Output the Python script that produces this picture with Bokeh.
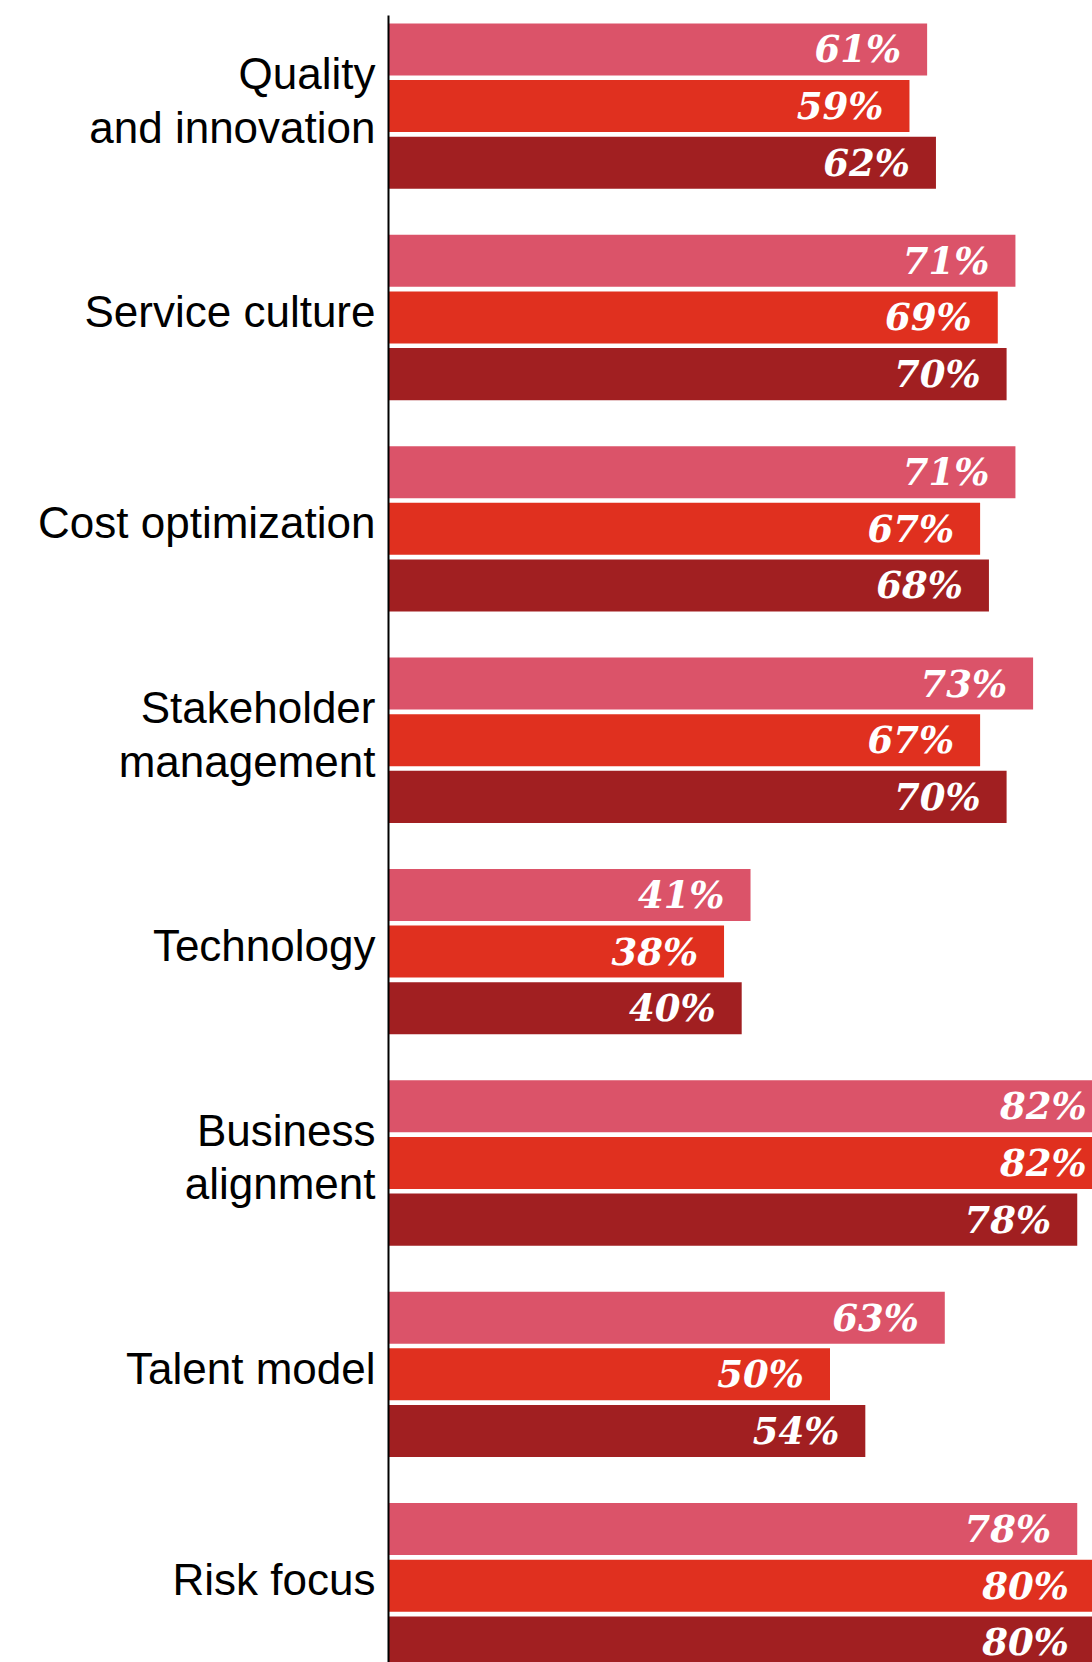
from bokeh.plotting import figure
from bokeh.models import Range1d, FixedTicker, ColumnDataSource
from bokeh.core.properties import value
from bokeh.embed import file_html
from bokeh.resources import INLINE

categories = ["Quality\nand innovation", "Service culture", "Cost optimization",
              "Stakeholder\nmanagement", "Technology", "Business\nalignment",
              "Talent model", "Risk focus"]
series_a = [61, 71, 71, 73, 41, 82, 63, 78]
series_b = [59, 69, 67, 67, 38, 82, 50, 80]
series_c = [62, 70, 68, 70, 40, 78, 54, 80]
series_names = ["A", "B", "C"]
colors = ["#DB5369", "#E0301F", "#A11F21"]

# layout constants (pixels)
W, H = 1092, 1662
LEFT, TOP = 388, 15
PX_PER_PCT = 8.83
UNIT = 56.67          # px per bar slot
GROUP = 3.73          # group step in bar slots
BAR_H = 0.918
FIRST_CENTER = 48.9   # px from figure top to first bar centre
LABEL_SHIFT = 6       # px to lift category labels

frame_w = W - LEFT
frame_h = H - TOP
y_end = (FIRST_CENTER - TOP) / UNIT
y_start = y_end - frame_h / UNIT

p = figure(width=W, height=H, output_backend="svg", toolbar_location=None,
           x_range=Range1d(0, frame_w / PX_PER_PCT), y_range=Range1d(y_start, y_end),
           x_axis_location=None, min_border_left=LEFT, min_border_top=TOP,
           min_border_right=0, min_border_bottom=0)
p.outline_line_color = None
p.grid.visible = False
p.background_fill_color = "white"
p.border_fill_color = "white"

all_series = [series_a, series_b, series_c]
for j, vals in enumerate(all_series):
    ys = [-(i * GROUP + j) for i in range(len(categories))]
    src = ColumnDataSource(dict(y=ys, v=vals, lab=[f"{v}%" for v in vals]))
    p.hbar(y="y", left=0, right="v", height=BAR_H, source=src,
           fill_color=colors[j], line_color=None)
    p.text(x="v", y="y", text="lab", source=src, x_offset=-26, y_offset=0,
           text_align="right", text_baseline="middle",
           text_font=value("DejaVu Serif"), text_font_style="bold italic",
           text_font_size="37px", text_color="white")

ticks = [-(i * GROUP + 1) + LABEL_SHIFT / UNIT for i in range(len(categories))]
p.yaxis.ticker = FixedTicker(ticks=ticks)
p.yaxis.major_label_overrides = {t: c for t, c in zip(ticks, categories)}
p.yaxis.major_tick_in = 0
p.yaxis.major_tick_out = 0
p.yaxis.minor_tick_in = 0
p.yaxis.minor_tick_out = 0
p.yaxis.major_label_standoff = 13
p.yaxis.major_label_text_font = "Liberation Sans"
p.yaxis.major_label_text_font_size = "44px"
p.yaxis.major_label_text_line_height = 1.1
p.yaxis.major_label_text_color = "black"
p.yaxis.axis_line_color = "black"
p.yaxis.axis_line_width = 2

open("out.html", "w").write(file_html(p, INLINE))
